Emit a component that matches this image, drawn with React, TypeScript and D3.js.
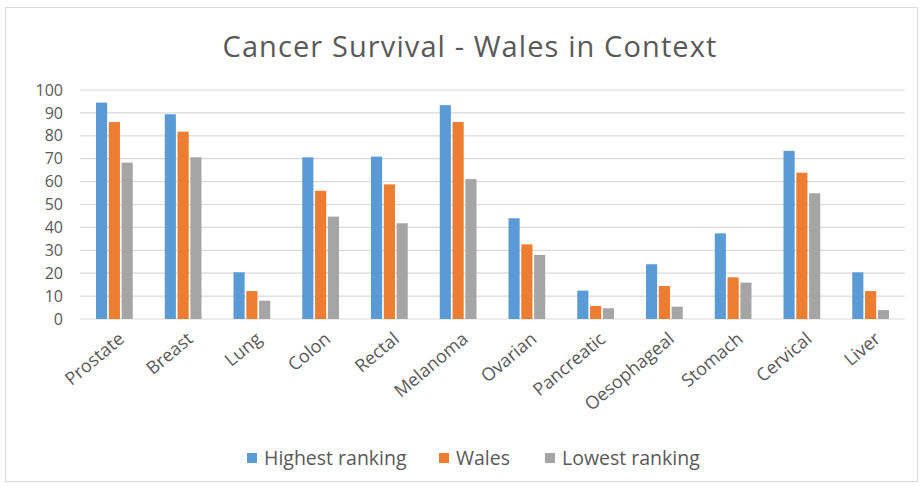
import React from "react";
import * as d3 from "d3";

const categories = ["Prostate", "Breast", "Lung", "Colon", "Rectal", "Melanoma", "Ovarian", "Pancreatic", "Oesophageal", "Stomach", "Cervical", "Liver"];
const seriesNames = ["Highest ranking", "Wales", "Lowest ranking"];
const highest = [94.5, 89.4, 20.4, 70.6, 70.9, 93.4, 44, 12.4, 23.9, 37.4, 73.4, 20.4];
const wales = [86, 81.8, 12.2, 56, 58.8, 86, 32.6, 5.7, 14.4, 18.2, 63.9, 12.2];
const lowest = [68.3, 70.6, 8, 44.7, 41.8, 61.1, 28, 4.7, 5.4, 15.9, 54.9, 3.9];
const yTicks = [0, 10, 20, 30, 40, 50, 60, 70, 80, 90, 100];
const colors = ["#5B9BD5", "#ED7D31", "#A5A5A5"];

const W = 921;
const H = 486;
const left = 80;
const right = 905;
const top = 90;
const bottom = 319;
const font = "'Open Sans', Lato, sans-serif";
const textColor = "#595959";

export default function App() {
  const series = [highest, wales, lowest];
  const x = d3.scaleBand<string>().domain(categories).range([left, right]).paddingInner(0).paddingOuter(0);
  const inner = d3.scaleBand<number>().domain([0, 1, 2]).range([0, x.bandwidth()]).paddingInner(0.13).paddingOuter(1.25);
  const y = d3.scaleLinear().domain([0, 100]).range([bottom, top]);

  const legendX = [247, 439, 545];

  return (
    <svg width={W} height={H} style={{ position: "absolute", left: 0, top: 0, background: "#fff" }}>
      <rect x={5.5} y={7.5} width={912} height={474} fill="#fff" stroke="#d9d9d9" />
      <text x={470} y={57} textAnchor="middle" fontFamily={font} fontSize={29} letterSpacing={1.1} fill={textColor}>
        Cancer Survival - Wales in Context
      </text>
      {yTicks.map((t) => (
        <g key={t}>
          <line x1={left} x2={right} y1={y(t)} y2={y(t)} stroke="#d9d9d9" strokeWidth={1.2} />
          <text x={63} y={y(t)} dy="0.35em" textAnchor="end" fontFamily={font} fontSize={16} fill={textColor}>
            {t}
          </text>
        </g>
      ))}
      {categories.map((c, i) => (
        <g key={c}>
          {series.map((s, k) => (
            <rect
              key={k}
              x={(x(c) as number) + (inner(k) as number)}
              y={y(s[i])}
              width={inner.bandwidth()}
              height={bottom - y(s[i])}
              fill={colors[k]}
            />
          ))}
          <text
            transform={`translate(${(x(c) as number) + x.bandwidth() / 2 + 7},${bottom + 17}) rotate(-40)`}
            textAnchor="end"
            dy="0.35em"
            fontFamily={font}
            fontSize={18}
            fill={textColor}
          >
            {c}
          </text>
        </g>
      ))}
      {seriesNames.map((n, k) => (
        <g key={n}>
          <rect x={legendX[k]} y={453} width={10} height={10} fill={colors[k]} />
          <text x={legendX[k] + 17} y={458} dy="0.35em" fontFamily={font} fontSize={19.5} fill={textColor}>
            {n}
          </text>
        </g>
      ))}
    </svg>
  );
}
